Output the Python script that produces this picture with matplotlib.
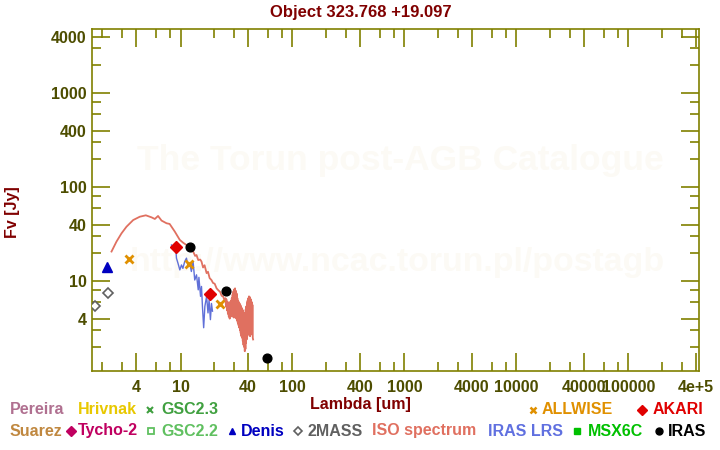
import matplotlib
matplotlib.use("Agg")
import matplotlib.pyplot as plt
from matplotlib.lines import Line2D
from matplotlib.ticker import FixedLocator, NullFormatter, FixedFormatter

plt.rcParams['font.family'] = ['Liberation Sans', 'DejaVu Sans']

# ---------------- data ----------------
iso_wl = [2.42, 2.68, 2.97, 3.29, 3.78, 4.33, 4.9, 5.5, 5.9, 6.3, 6.77, 7.5, 8.0,
          8.9, 9.86, 10.6, 11.3, 12.1, 12.6, 13.0, 13.5, 13.9, 14.4, 15.0, 15.4,
          15.9, 16.4, 17.1, 17.6, 18.2, 18.9, 19.5, 20.2, 21.0, 21.8, 22.6, 23.3,
          24.0, 24.8, 25.2, 25.5, 25.7, 26.0, 26.2, 26.5, 26.7, 27.0, 27.2, 27.5,
          27.7, 28.0, 28.2, 28.5, 28.7, 29.0, 29.2, 29.5, 29.7, 30.0, 30.2, 30.5,
          30.7, 31.0, 31.2, 31.5, 31.7, 32.0, 32.2, 32.5, 32.7, 33.0, 33.2, 33.5,
          33.7, 34.0, 34.2, 34.5, 34.7, 35.0, 35.2, 35.5, 35.7, 36.0, 36.2, 36.5,
          36.7, 37.0, 37.2, 37.5, 37.7, 38.0, 38.2, 38.5, 38.7, 39.0, 39.2, 39.5,
          39.7, 40.0, 40.3, 40.6, 40.9, 41.2, 41.5, 41.8, 42.1, 42.4, 42.7, 43.0,
          43.3, 43.6, 43.9, 44.2, 44.5]
iso_fl = [20.7, 26.4, 32.3, 38.0, 44.8, 48.6, 50.3, 47.9, 46.0, 49.5, 44.2, 41.4, 40.7,
          33.7, 27.5, 25.6, 24.3, 23.0, 21.0, 20.6, 18.6, 19.0, 16.8, 17.0, 16.2,
          14.0, 14.8, 12.2, 12.6, 10.8, 10.3, 9.6, 9.4, 8.4, 8.0, 7.7, 7.0,
          6.9, 6.2, 6.6, 5.4, 6.4, 4.9, 6.0, 4.5, 5.8, 4.2, 6.0, 4.0,
          5.6, 4.3, 6.2, 4.6, 6.6, 4.2, 7.2, 4.4, 7.8, 4.1, 8.2, 4.3,
          8.4, 4.6, 7.9, 4.0, 7.4, 3.8, 6.6, 3.6, 6.2, 3.4, 6.0, 3.2,
          5.8, 3.0, 5.6, 2.8, 5.4, 2.6, 5.2, 2.5, 5.0, 2.3, 4.8, 2.1,
          4.6, 2.0, 4.4, 1.8, 4.6, 1.9, 5.0, 2.2, 5.4, 2.4, 5.8, 2.6,
          6.2, 2.7, 6.6, 2.8, 6.9, 2.9, 6.8, 2.6, 6.5, 2.8, 6.3, 3.0,
          6.0, 2.7, 5.6, 2.5, 2.4]

lrs_wl = [8.3, 9.08, 9.2, 9.5, 9.86, 10.2, 10.5, 10.9, 11.3, 11.7, 12.1, 12.5, 12.95,
          13.4, 13.9, 14.4, 14.6, 15.1, 15.4, 15.7, 16.1, 16.5, 17.1, 17.6, 18.0,
          18.5, 18.9, 19.3]
lrs_fl = [24.3, 22.4, 17.6, 15.5, 13.2, 14.9, 13.7, 16.2, 17.6, 14.3, 15.5, 12.7, 16.2,
          10.3, 11.7, 8.1, 11.0, 6.9, 8.8, 5.4, 3.2, 5.4, 6.9, 4.6, 6.3,
          3.9, 5.8, 4.8]

denis_wl, denis_fl = [2.2], [14.3]
twomass_wl, twomass_fl = [1.71, 2.25], [5.4, 7.45]
allwise_wl, allwise_fl = [3.47, 11.9, 22.6], [17.1, 15.2, 5.74]
akari_wl, akari_fl = [9.14, 18.4], [23.0, 7.28]
iras_wl, iras_fl = [12.1, 25.6, 59.3], [23.0, 7.88, 1.52]

x_major = [4, 10, 40, 100, 400, 1000, 4000, 10000, 40000, 100000, 400000]
x_labels = ["4", "10", "40", "100", "400", "1000", "4000", "10000", "40000", "100000", "4e+5"]
y_major = [4, 10, 40, 100, 400, 1000, 4000]
y_labels = ["4", "10", "40", "100", "400", "1000", "4000"]
minor_mult = [2, 3, 6, 8]

title = "Object 323.768 +19.097"

# ---------------- figure ----------------
fig = plt.figure(figsize=(7.2, 4.5), dpi=100)
L, R, T, B = 92.3, 699.3, 29.3, 371.3
ax = fig.add_axes([L / 720, 1 - B / 450, (R - L) / 720, (B - T) / 450])
ax.set_xscale('log')
ax.set_yscale('log')
ax.set_xlim(1.63, 4.3e5)
ax.set_ylim(1.10, 4800)

axcol = '#808000'
lblcol = '#4d4d00'
for s in ax.spines.values():
    s.set_color(axcol)
    s.set_linewidth(1.2)

ax.xaxis.set_major_locator(FixedLocator(x_major))
ax.xaxis.set_major_formatter(FixedFormatter(x_labels))
ax.yaxis.set_major_locator(FixedLocator(y_major))
ax.yaxis.set_major_formatter(FixedFormatter(y_labels))
xminor = [m * 10 ** k for k in range(0, 6) for m in minor_mult]
yminor = [m * 10 ** k for k in range(0, 4) for m in minor_mult]
ax.xaxis.set_minor_locator(FixedLocator(xminor))
ax.yaxis.set_minor_locator(FixedLocator(yminor))
ax.xaxis.set_minor_formatter(NullFormatter())
ax.yaxis.set_minor_formatter(NullFormatter())
ax.tick_params(which='both', direction='in', top=True, right=True, color=axcol, width=1.2)
ax.tick_params(which='major', length=13)
ax.tick_params(which='minor', length=6.5)
ax.tick_params(axis='both', which='major', labelsize=11.5, labelcolor=lblcol)
ax.tick_params(axis='x', pad=6)
ax.tick_params(axis='y', pad=4)
for lab in ax.get_xticklabels() + ax.get_yticklabels():
    lab.set_fontweight('bold')

# watermark
wm = '#fcfaf5'
ax.text(0.507, 0.615, "The Torun post-AGB Catalogue", transform=ax.transAxes,
        ha='center', va='center', fontsize=25.5, fontweight='bold', color=wm, zorder=0)
ax.text(0.502, 0.318, "http://www.ncac.torun.pl/postagb", transform=ax.transAxes,
        ha='center', va='center', fontsize=24.4, fontweight='bold', color=wm, zorder=0)

# spectra
iso_col = '#e07060'
lrs_col = '#6070d8'
ax.plot(iso_wl, iso_fl, color=iso_col, lw=1.3, zorder=2)
ax.plot(lrs_wl, lrs_fl, color=lrs_col, lw=1.0, zorder=2)

# photometry
ax.plot(denis_wl, denis_fl, ls='none', marker='^', ms=7, color='#0000c0', zorder=4)
ax.plot(twomass_wl, twomass_fl, ls='none', marker='D', ms=5.5, mfc='white', mec='#606060',
        mew=1.2, zorder=4)
ax.plot(allwise_wl, allwise_fl, ls='none', marker='x', ms=6, mew=2, color='#e09000', zorder=4)
ax.plot(akari_wl, akari_fl, ls='none', marker='D', ms=6, color='#e00000', zorder=4)
ax.plot(iras_wl, iras_fl, ls='none', marker='o', ms=6.3, color='black', zorder=5)

# titles / labels
dark_red = '#800000'
fig.text(361 / 720, 1 - 12 / 450, title, ha='center', va='center', fontsize=12,
         fontweight='bold', color=dark_red)
fig.text(360 / 720, 1 - 404 / 450, "Lambda [um]", ha='center', va='center', fontsize=11.5,
         fontweight='bold', color=dark_red)
fig.text(13 / 720, 1 - 212 / 450, "Fv [Jy]", ha='center', va='center', fontsize=11.5,
         fontweight='bold', color=dark_red, rotation=90)

# legend-like catalogue labels
def leg_text(x, y, s, c):
    fig.text(x / 720, 1 - y / 450, s, ha='left', va='center', fontsize=11.5,
             fontweight='bold', color=c)

def leg_mark(x, y, m, c, ms, **kw):
    fig.add_artist(Line2D([x / 720], [1 - y / 450], marker=m, color=c, ms=ms, ls='none',
                          transform=fig.transFigure, **kw))

r1, r2 = 410, 431
leg_text(10, r1, "Pereira", '#b07090')
leg_text(77.5, r1, "Hrivnak", '#e8c800')
leg_mark(150, r1, 'x', '#40a040', 4, mew=1.5)
leg_text(161.5, r1, "GSC2.3", '#40a040')
leg_mark(533, r1, 'x', '#e09000', 5, mew=1.8)
leg_text(542, r1, "ALLWISE", '#e09000')
leg_mark(641.5, r1, 'D', '#e00000', 5)
leg_text(653, r1, "AKARI", '#e00000')

leg_text(10, r2, "Suarez", '#c08840')
leg_mark(70.6, r2, 'D', '#c00060', 5)
leg_text(77.5, r2, "Tycho-2", '#c00060')
leg_mark(151, r2, 's', '#60c060', 4, mfc='white', mew=1.3)
leg_text(161.5, r2, "GSC2.2", '#60c060')
leg_mark(231.7, r2, '^', '#0000c0', 5)
leg_text(241, r2, "Denis", '#0000c0')
leg_mark(297.7, r2, 'D', '#606060', 4.5, mfc='white', mew=1.2)
leg_text(307, r2, "2MASS", '#606060')
leg_text(371.5, r2, "ISO spectrum", '#e07060')
leg_text(488, r2, "IRAS LRS", '#6070e0')
leg_mark(577, r2, 's', '#00c000', 5)
leg_text(588, r2, "MSX6C", '#00c000')
leg_mark(658.5, r2, 'o', 'black', 5)
leg_text(668, r2, "IRAS", 'black')

fig.savefig("out.png", dpi=100)
